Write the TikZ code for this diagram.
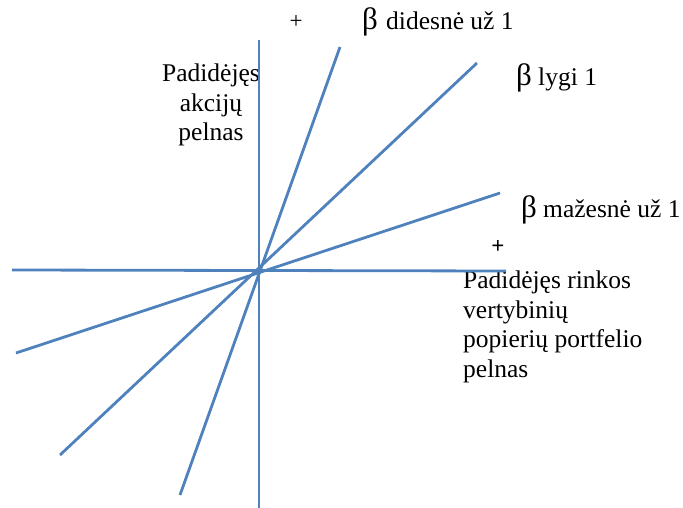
\documentclass[tikz,border=0pt]{standalone}
\usepackage{fontspec}
\setmainfont{Liberation Serif}
\begin{document}
\begin{tikzpicture}[x=1pt,y=-1pt,
  axis/.style={draw=linecol,line width=2.8pt},
  betaline/.style={draw=linecol,line width=2.8pt},
  lbl/.style={inner sep=0pt,anchor=base west,font=\fontsize{25.5}{29.5}\selectfont},
  betasym/.style={inner sep=0pt,anchor=base west,font=\fontsize{31}{31}\selectfont},
  plus/.style={inner sep=0pt,anchor=center,font=\fontsize{23}{23}\selectfont}]
\definecolor{linecol}{RGB}{79,129,189}
\useasboundingbox (0,0) rectangle (683,508);
% texts (multi-line nodes: base = last line)
\node[lbl,anchor=base,align=center] (ylab) at (211,141) {Padidėjęs\\akcijų\\pelnas};
\node[lbl,align=left] (xlab) at (463,377) {Padidėjęs rinkos\\vertybinių\\popierių portfelio\\pelnas};
\node[plus] (p1) at (296,22) {+};
\node[plus] (p2) at (498,247) {\textbf{+}};
\node[betasym] (b1) at (362,30) {β};
\node[lbl] (t1) at (386,30) {didesnė už 1};
\node[betasym] (b2) at (516,86) {β};
\node[lbl] (t2) at (538,86) {lygi 1};
\node[betasym] (b3) at (521,218) {β};
\node[lbl] (t3) at (543,218) {mažesnė už 1};
% coordinates
\coordinate (O) at (259,270);
\coordinate (vt) at (259,40);
\coordinate (vb) at (259,508);
\coordinate (hl) at (12,270);
\coordinate (hr) at (506,271);
\coordinate (s1) at (340,47);
\coordinate (s2) at (180,495);
\coordinate (e1) at (477,63);
\coordinate (e2) at (60,455);
\coordinate (f1) at (500,193);
\coordinate (f2) at (16,353);
% axes and lines
\draw[axis] (vt) -- (vb);
\draw[axis] (hl) -- (hr);
\draw[betaline] (s2) -- (s1);
\draw[betaline] (e2) -- (e1);
\draw[betaline] (f2) -- (f1);
\end{tikzpicture}
\end{document}
